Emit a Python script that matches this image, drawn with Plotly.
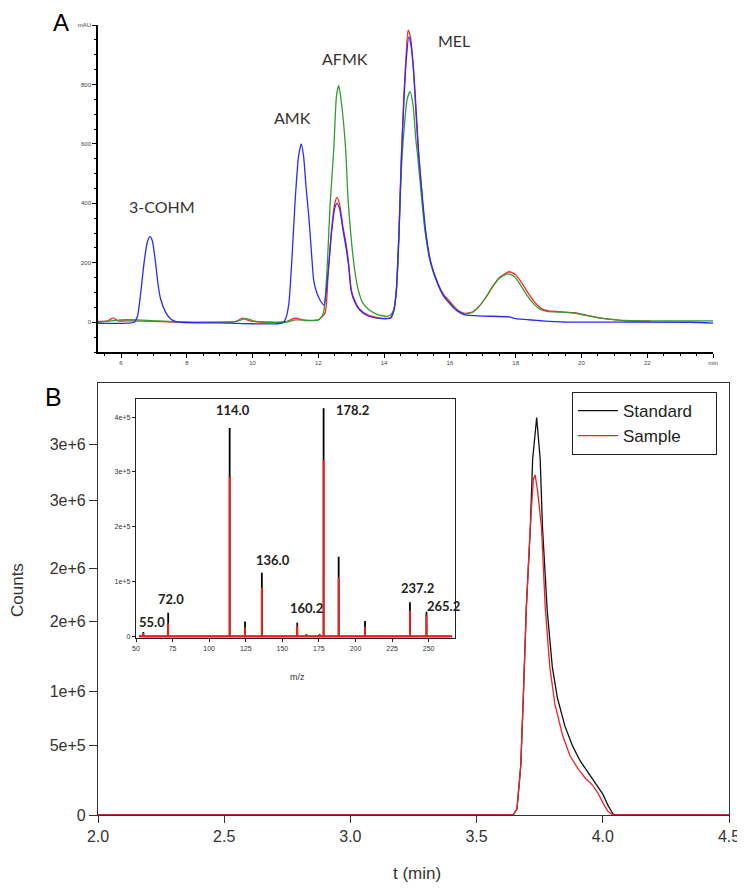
import plotly.graph_objects as go

# The page body adds an 8 px margin; the figure is sized and placed to fill the 745x893 window.
OFF = 8
W, H = 745 - OFF, 893 - OFF

# ---------------- Panel A: HPLC chromatograms (mAU vs min) ----------------
a_blue_t = [5.3, 6.2, 6.4, 6.5, 6.6, 6.7, 6.8, 6.88, 6.95, 7.05, 7.12, 7.2, 7.35, 7.5, 7.65, 7.8, 9.3, 10.0, 10.9,
            11.0, 11.1, 11.2, 11.3, 11.4, 11.48, 11.55, 11.63, 11.71, 11.8, 11.86, 11.95, 12.05, 12.17,
            12.3, 12.4, 12.5, 12.57, 12.65, 12.75, 12.85, 12.92, 13.0, 13.1, 13.25, 13.5, 13.8, 14.1,
            14.2, 14.3, 14.37, 14.45, 14.52, 14.6, 14.67, 14.75, 14.82, 14.9, 14.98, 15.05, 15.14, 15.26,
            15.42, 15.65, 15.8, 16.0, 16.2, 16.45, 17.0, 17.8, 18.0, 18.8, 19.5, 23.3, 24.0]
a_blue_v = [-4, -3, 0, 20, 100, 200, 270, 288, 275, 200, 132, 80, 35, 12, 3, 0, -3, -5, -3,
            10, 60, 220, 420, 560, 600, 560, 450, 356, 220, 140, 100, 75, 58,
            170, 300, 385, 400, 380, 310, 245, 190, 105, 70, 42, 22, 14, 12,
            14, 40, 105, 290, 530, 740, 880, 960, 930, 840, 700, 570, 450, 310,
            200, 125, 90, 62, 40, 25, 21, 18, 12, 5, 1, 0, -3]

a_red_t = [5.3, 5.6, 5.76, 5.9, 6.3, 7.0, 8.0, 9.5, 9.7, 9.9, 10.5, 11.0, 11.3, 11.6, 12.0,
           12.2, 12.3, 12.4, 12.5, 12.57, 12.65, 12.75, 12.85, 12.92, 13.0, 13.1, 13.25, 13.5, 13.8, 14.1,
           14.2, 14.3, 14.37, 14.45, 14.52, 14.6, 14.67, 14.73, 14.8, 14.88, 14.96, 15.03, 15.12, 15.24, 15.4,
           15.64, 15.8, 16.0, 16.2, 16.45, 16.7, 16.9, 17.1, 17.3, 17.5, 17.8, 18.0, 18.2, 18.4, 18.6,
           18.8, 19.0, 19.4, 19.8, 20.1, 20.5, 20.9, 21.3, 22.1]
a_red_v = [3, 5, 15, 5, 5, 3, 0, 3, 14, 5, 0, 2, 14, 6, 8,
           30, 170, 310, 400, 420, 395, 320, 260, 200, 110, 75, 45, 25, 16, 13,
           16, 45, 110, 300, 550, 760, 900, 983, 960, 870, 720, 590, 470, 320, 210,
           130, 95, 70, 45, 30, 35, 55, 85, 120, 150, 170, 160, 130, 95, 65,
           45, 38, 35, 32, 25, 16, 10, 5, 4]

a_green_t = [5.3, 6.0, 6.5, 7.0, 8.0, 9.5, 9.8, 10.1, 11.0, 11.3, 12.0, 12.15, 12.25, 12.36, 12.47,
             12.55, 12.62, 12.7, 12.83, 12.9, 13.0, 13.1, 13.2, 13.35, 13.55, 13.8, 14.1, 14.2, 14.3, 14.37,
             14.45, 14.51, 14.6, 14.7, 14.79, 14.88, 14.96, 15.03, 15.12, 15.24, 15.4, 15.64, 15.8, 16.0, 16.2,
             16.45, 16.7, 16.9, 17.1, 17.3, 17.5, 17.75, 17.95, 18.15, 18.35, 18.55, 18.75, 18.95, 19.4, 19.8,
             20.1, 20.5, 20.9, 21.3, 22.0, 23.0, 24.0]
a_green_v = [0, 8, 8, 5, 0, 3, 12, 3, 0, 8, 8, 30, 150, 400, 583,
             760, 797, 740, 583, 420, 280, 180, 115, 65, 41, 26, 20, 25, 45, 100,
             290, 480, 640, 750, 776, 730, 620, 549, 440, 310, 205, 125, 90, 65, 42,
             28, 35, 55, 85, 120, 148, 163, 155, 125, 90, 62, 43, 37, 34, 31,
             24, 15, 10, 6, 5, 5, 5]

a_xtick_vals = [6, 8, 10, 12, 14, 16, 18, 20, 22, 24]
a_xtick_text = ["6", "8", "10", "12", "14", "16", "18", "20", "22", "min"]
a_ytick_vals = [0, 200, 400, 600, 800, 1000]
a_ytick_text = ["0", "200", "400", "600", "800", "mAU"]
a_peak_names = ["3-COHM", "AMK", "AFMK", "MEL"]

# ---------------- Panel B: extracted ion chromatogram ----------------
b_std_t = [2.0, 3.645, 3.66, 3.675, 3.685, 3.697, 3.713, 3.722, 3.738, 3.752, 3.761, 3.78, 3.80, 3.82,
           3.85, 3.88, 3.91, 3.94, 3.97, 4.0, 4.02, 4.04, 4.05, 4.5]
b_std_v = [0, 0, 0.05e6, 0.4e6, 0.95e6, 1.68e6, 2.33e6, 2.88e6, 3.22e6, 2.88e6, 2.33e6, 1.65e6, 1.2e6, 0.95e6,
           0.72e6, 0.56e6, 0.44e6, 0.35e6, 0.27e6, 0.17e6, 0.08e6, 0.01e6, 0, 0]
b_smp_t = [2.0, 3.645, 3.66, 3.675, 3.685, 3.697, 3.713, 3.725, 3.732, 3.742, 3.757, 3.772, 3.79, 3.81,
           3.84, 3.87, 3.90, 3.93, 3.96, 3.98, 4.0, 4.02, 4.04, 4.5]
b_smp_v = [0, 0, 0.05e6, 0.4e6, 0.95e6, 1.68e6, 2.35e6, 2.72e6, 2.755e6, 2.62e6, 2.33e6, 1.68e6, 1.2e6, 0.9e6,
           0.65e6, 0.48e6, 0.38e6, 0.3e6, 0.24e6, 0.18e6, 0.1e6, 0.03e6, 0, 0]
b_xtick_vals = [2.0, 2.5, 3.0, 3.5, 4.0, 4.5]
b_xtick_text = ["2.0", "2.5", "3.0", "3.5", "4.0", "4.5"]
b_xtop_vals = [2.25, 2.75, 3.25, 3.75, 4.25]
b_ytick_vals = [0, 5.6e5, 1.0e6, 1.57e6, 2.0e6, 2.55e6, 3.0e6]
b_ytick_text = ["0", "5e+5", "1e+6", "2e+6", "2e+6", "3e+6", "3e+6"]

# ---------------- Inset: mass spectrum ----------------
ms_mz = [55.0, 59.5, 72.0, 114.0, 124.5, 136.0, 148.0, 160.2, 166.5, 175.5, 178.2, 188.5, 206.5, 220.0, 237.2, 248.5]
ms_std = [0.08e5, 0.01e5, 0.43e5, 3.80e5, 0.27e5, 1.16e5, 0.01e5, 0.25e5, 0.04e5, 0.04e5, 4.16e5, 1.45e5, 0.28e5,
          0.01e5, 0.62e5, 0.45e5]
ms_smp = [0.06e5, 0.01e5, 0.24e5, 2.91e5, 0.16e5, 0.89e5, 0.01e5, 0.20e5, 0.03e5, 0.03e5, 3.22e5, 1.08e5, 0.17e5,
          0.01e5, 0.47e5, 0.39e5]
ms_start, ms_end = 52.0, 266.0
ms_xtick_vals = [50, 75, 100, 125, 150, 175, 200, 225, 250]
ms_ytick_vals = [0, 1e5, 2e5, 3e5, 4e5]
ms_ytick_text = ["0", "1e+5", "2e+5", "3e+5", "4e+5"]
ms_labels = ["55.0", "72.0", "114.0", "136.0", "160.2", "178.2", "237.2", "265.2"]

BLUE, RED, GREEN = "#2b2bff", "#ff2626", "#2e9e32"


def X(p):
    return (p - OFF) / W


def Y(p):
    return 1 - (p - OFF) / H


def sticks(mzs, hs):
    xs, ys = [ms_start], [0]
    for m, h in zip(mzs, hs):
        xs += [m, m, m]
        ys += [0, h, 0]
    xs.append(ms_end)
    ys.append(0)
    return xs, ys


fig = go.Figure()

for t, v, c in [(a_red_t, a_red_v, RED), (a_green_t, a_green_v, GREEN), (a_blue_t, a_blue_v, BLUE)]:
    fig.add_trace(go.Scatter(x=t, y=v, mode="lines", xaxis="x", yaxis="y", showlegend=False,
                             line=dict(color=c, width=1.3, shape="spline", smoothing=0.6), hoverinfo="skip"))

fig.add_trace(go.Scatter(x=b_std_t, y=b_std_v, mode="lines", name="Standard\u00a0\u00a0\u00a0\u00a0",
                         xaxis="x2", yaxis="y2", line=dict(color="#111111", width=1.3)))
fig.add_trace(go.Scatter(x=b_smp_t, y=b_smp_v, mode="lines", name="Sample", xaxis="x2", yaxis="y2",
                         line=dict(color="#e8262b", width=1.3)))

sx, sy = sticks(ms_mz, ms_std)
fig.add_trace(go.Scatter(x=sx, y=sy, mode="lines", xaxis="x3", yaxis="y3", showlegend=False,
                         line=dict(color="black", width=1.8)))
rx, ry = sticks(ms_mz, ms_smp)
fig.add_trace(go.Scatter(x=rx, y=ry, mode="lines", xaxis="x3", yaxis="y3", showlegend=False,
                         line=dict(color="#ff1a1a", width=1.8)))

small = dict(family="Liberation Sans", size=6, color="#444")
mid = dict(family="Liberation Sans", size=16, color="#333")
common = dict(automargin=False, showgrid=False, zeroline=False)

fig.update_layout(
    width=W, height=H, margin=dict(l=0, r=0, t=0, b=0, autoexpand=False),
    paper_bgcolor="white", plot_bgcolor="rgba(0,0,0,0)",
    xaxis=dict(domain=[X(98), X(713)], range=[5.3, 24], anchor="y",
               showline=True, linecolor="black", linewidth=1.5, **common,
               tickmode="array", tickvals=a_xtick_vals, ticktext=a_xtick_text, ticks="outside",
               ticklen=4, tickcolor="black", tickfont=small,
               minor=dict(tickmode="linear", tick0=0, dtick=0.5, ticks="outside", ticklen=2.5, tickcolor="black")),
    yaxis=dict(domain=[Y(352), Y(25)], range=[-100, 1000], anchor="x",
               showline=True, linecolor="black", linewidth=1.5, **common,
               tickmode="array", tickvals=a_ytick_vals, ticktext=a_ytick_text, ticks="outside",
               ticklen=4, tickcolor="black", tickfont=small,
               minor=dict(tickmode="linear", tick0=0, dtick=50, ticks="outside", ticklen=2.5, tickcolor="black")),
    xaxis2=dict(domain=[X(98), X(729)], range=[2.0, 4.5], anchor="y2",
                showline=True, mirror=True, linecolor="#333", linewidth=1.2, **common,
                tickmode="array", tickvals=b_xtick_vals, ticktext=b_xtick_text, ticks="outside",
                ticklen=7, tickcolor="#333", tickfont=mid),
    xaxis4=dict(overlaying="x2", side="top", anchor="y2", range=[2.0, 4.5], showline=False, **common,
                tickmode="array", tickvals=b_xtop_vals, ticks="outside",
                ticklen=5, tickcolor="#333", showticklabels=False),
    yaxis2=dict(domain=[Y(815), Y(383)], range=[0, 3.5e6], anchor="x2",
                showline=True, mirror=True, linecolor="#333", linewidth=1.2, **common,
                tickmode="array", tickvals=b_ytick_vals, ticktext=b_ytick_text, ticks="outside",
                ticklen=8, tickcolor="#333", tickfont=mid),
    xaxis3=dict(domain=[X(136), X(455)], range=[50, 268], anchor="y3",
                showline=True, mirror=True, linecolor="#222", linewidth=1.4, **common,
                tickmode="array", tickvals=ms_xtick_vals, ticks="outside", ticklen=3, tickcolor="#222",
                tickfont=dict(family="Liberation Sans", size=7, color="#333")),
    yaxis3=dict(domain=[Y(638), Y(399)], range=[-3000, 4.33e5], anchor="x3",
                showline=True, mirror=True, linecolor="#222", linewidth=1.4, **common,
                tickmode="array", tickvals=ms_ytick_vals, ticktext=ms_ytick_text, ticks="outside",
                ticklen=3, tickcolor="#222", tickfont=dict(family="Liberation Sans", size=7, color="#333")),
    legend=dict(x=X(572), y=Y(392), xanchor="left", yanchor="top", bgcolor="white",
                bordercolor="#222", borderwidth=1, font=dict(family="Liberation Sans", size=17, color="#222"),
                itemwidth=40, tracegroupgap=0),
)

ann = []


def add_text(text, x, y, size, color="#222", family="Liberation Sans", bold=False, angle=0):
    ann.append(dict(text=("<b>%s</b>" % text) if bold else text, x=X(x), y=Y(y), xref="paper", yref="paper",
                    showarrow=False, xanchor="center", yanchor="middle", textangle=angle,
                    font=dict(family=family, size=size, color=color)))


add_text("A", 61, 22, 24, "black")
add_text("B", 53, 397, 25, "black")
for name, (x, y) in zip(a_peak_names, [(162, 207), (292, 117), (345, 58), (454, 40)]):
    add_text(name, x, y, 16, "#333", "Lato")
for name, (x, y) in zip(ms_labels, [(152, 622), (171, 599), (233, 410), (273, 560), (306, 608), (352, 410),
                                    (417, 588), (443, 606)]):
    add_text(name, x, y, 13, "#222", "Lato", bold=True)
add_text("m/z", 297, 677, 9, "#333")
add_text("Counts", 17, 590, 17, "#333", angle=-90)
add_text("t (min)", 417, 873, 17, "#333")
fig.update_layout(annotations=ann)

fig.write_html("out.html")
